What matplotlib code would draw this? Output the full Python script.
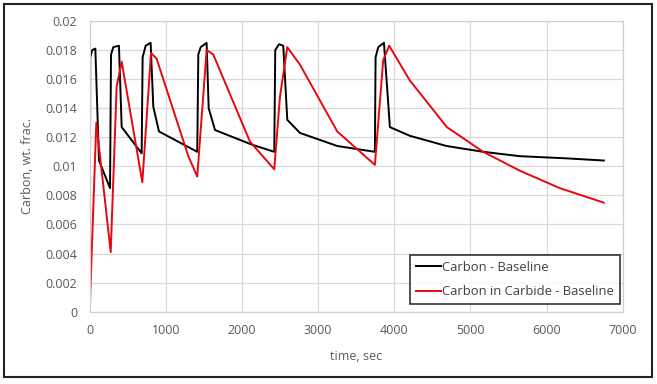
import matplotlib
matplotlib.use("Agg")
import matplotlib.pyplot as plt
from matplotlib.patches import Rectangle
from matplotlib.ticker import FuncFormatter

# Data
t_carbon = [0, 8, 35, 75, 123, 268, 281, 311, 385, 421, 683, 696, 736, 801, 836, 911,
            1413, 1427, 1458, 1536, 1563, 1646, 2127, 2424, 2437, 2486, 2542, 2595,
            2761, 3251, 3745, 3754, 3789, 3864, 3942, 4205, 4686, 5167, 5648, 6261, 6751]
c_carbon = [0.0010, 0.0175, 0.0180, 0.0181, 0.0104, 0.0085, 0.0177, 0.0182, 0.0183,
            0.0127, 0.0109, 0.0175, 0.0183, 0.0185, 0.0141, 0.0124, 0.0110, 0.0177,
            0.0182, 0.0185, 0.0140, 0.0125, 0.0115, 0.0110, 0.0180, 0.0184, 0.0183,
            0.0132, 0.0123, 0.0114, 0.0110, 0.0175, 0.0182, 0.0185, 0.0127, 0.0121,
            0.0114, 0.0110, 0.0107, 0.01055, 0.0104]

t_carbide = [0, 88, 277, 355, 421, 692, 806, 880, 1296, 1413, 1536, 1623, 2105, 2424,
             2499, 2595, 2761, 3251, 3745, 3854, 3933, 4205, 4690, 5167, 5648, 6173, 6751]
c_carbide = [0.0, 0.0130, 0.0041, 0.0155, 0.0172, 0.0089, 0.0178, 0.0174, 0.0107,
             0.0093, 0.0180, 0.0177, 0.0117, 0.0098, 0.0148, 0.0182, 0.0170, 0.0124,
             0.0101, 0.0173, 0.0183, 0.0159, 0.0127, 0.0110, 0.0097, 0.0085, 0.0075]

series_labels = ["Carbon - Baseline", "Carbon in Carbide - Baseline"]
x_ticks = [0, 1000, 2000, 3000, 4000, 5000, 6000, 7000]
y_ticks = [0, 0.002, 0.004, 0.006, 0.008, 0.01, 0.012, 0.014, 0.016, 0.018, 0.02]

plt.rcParams['font.family'] = ['Open Sans', 'DejaVu Sans']

fig = plt.figure(figsize=(6.57, 3.84), dpi=100)
ax = fig.add_axes([0.1364, 0.1883, 0.8116, 0.757])

ax.plot(t_carbon, c_carbon, color='black', lw=1.4, label=series_labels[0])
ax.plot(t_carbide, c_carbide, color='#e8070f', lw=1.4, label=series_labels[1])

ax.set_xlim(0, 7000)
ax.set_ylim(0, 0.02)
ax.set_xticks(x_ticks)
ax.set_yticks(y_ticks)
ax.yaxis.set_major_formatter(FuncFormatter(lambda v, p: "0" if v == 0 else ("%.3f" % v).rstrip('0')))
ax.grid(True, color='#d9d9d9', lw=0.9)
ax.set_axisbelow(True)
for s in ax.spines.values():
    s.set_color('#d0d0d0')
    s.set_linewidth(0.9)
ax.tick_params(length=0, labelsize=9, colors='#595959')
ax.tick_params(axis='y', pad=9)
ax.tick_params(axis='x', pad=9)
ax.set_xlabel("time, sec", fontsize=9, color='#595959', labelpad=9)
ax.set_ylabel("Carbon, wt. frac.", fontsize=9, color='#595959', labelpad=8)

leg = ax.legend(loc='lower right', bbox_to_anchor=(0.9946, 0.0265), fontsize=9.4,
                frameon=True, fancybox=False, borderaxespad=0.0, handlelength=1.9,
                handletextpad=0.1, borderpad=0.45, labelspacing=0.85)
leg.get_frame().set_edgecolor('black')
leg.get_frame().set_linewidth(1.2)
for t in leg.get_texts():
    t.set_color('#404040')

fig.patches.append(Rectangle((0.006, 0.018), 0.986, 0.972, transform=fig.transFigure,
                             fill=False, edgecolor='#222222', lw=1.5))

fig.savefig("out.png", dpi=100)
